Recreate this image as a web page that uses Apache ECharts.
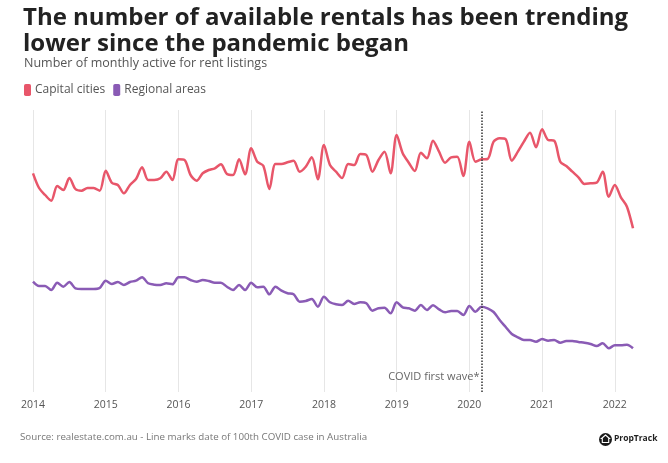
<!DOCTYPE html>
<html>
<head>
<meta charset="utf-8">
<script src="https://cdn.jsdelivr.net/npm/echarts@6/dist/echarts.min.js"></script>
<style>
html,body{margin:0;padding:0;background:#fff;}
#chart{width:668px;height:463px;}
</style>
</head>
<body>
<div id="chart"></div>
<script>
// Months Jan 2014 .. Apr 2022
var years = [2014, 2015, 2016, 2017, 2018, 2019, 2020, 2021, 2022];
var months = [];
years.forEach(function (y) {
  for (var m = 1; m <= 12; m++) {
    if (y === 2022 && m > 4) break;
    months.push(y + '-' + (m < 10 ? '0' + m : m));
  }
});

// Number of monthly active for-rent listings (relative index)
var capitalCities = [
  221.7,207,200,194.3,209,205,217,206,204.3,207,207,204.3,
  224.3,212.3,210,201.7,210,216,227.7,215,215,216.7,223.3,215,
  235.7,235,220,214.3,221.7,225,226.7,230.7,221,220,235.7,220.7,
  246.7,233.3,229.3,206,231,231,232.7,234.3,223.3,228.3,237.7,215.7,
  250,230,223.3,217,231,230,241,240,223.3,235,243.3,221.7,
  260,241.7,232.3,224,242.3,236.7,254.3,243.3,232.3,237.7,238.3,219,
  253.3,233.3,235.7,236,253.3,256.7,255.7,234.3,243.3,253.3,262.3,247.7,
  265.7,255,254.3,233.3,229,223.3,217.7,211,211.7,212.3,223.3,198.3,
  210,197.7,188.3,166.7
];
var regionalAreas = [
  113.3,109,109,105,112.3,108.3,113,106.7,106,106,106,107,
  114.3,111,113,110,113,114.3,117.7,111.7,110.3,110,111.7,110.7,
  117.7,117.7,115,113.3,115,114,112.3,112.3,108.3,105,110,105,
  112.3,107.7,108.3,100.7,108.3,104.3,101.7,100.7,93.3,94,96,88.3,
  98.3,92.7,90.7,90,94.3,91,92.7,91.7,84.3,86.7,87.3,81.7,
  92.7,87.7,86.7,84.3,90,85,89.7,85.7,82.7,84,84,80,
  89,83.3,88.3,86.7,83,75,68,61,57.7,55,55,53.3,
  56,54.3,55,52.3,54,54,53,52.3,51,49,51.7,46.7,
  49.7,49.7,50.3,46.7
];
var covidMonth = '2020-03';
var covidLabel = 'COVID first wave*';

var FONT = 'Open Sans';
var isJan = function (i, v) { return /-01$/.test(v); };

var chart = echarts.init(document.getElementById('chart'), null, {renderer: 'canvas'});
var option = {
  backgroundColor: '#fff',
  animation: false,
  textStyle: {fontFamily: FONT},
  title: [
    {
      text: 'The number of available rentals has been trending\nlower since the pandemic began',
      left: 18, top: 0,
      textStyle: {fontFamily: FONT, fontSize: 24, fontWeight: 'bold', color: '#222', lineHeight: 26}
    },
    {
      text: 'Number of monthly active for rent listings',
      left: 19, top: 52,
      textStyle: {fontFamily: FONT, fontSize: 12.5, fontWeight: 'normal', color: '#555'}
    }
  ],
  legend: {
    left: 19, top: 79,
    icon: 'roundRect',
    itemWidth: 7, itemHeight: 12, itemGap: 8,
    textStyle: {fontFamily: FONT, fontSize: 12, color: '#555', padding: [0, 0, 0, -1]},
    data: ['Capital cities', 'Regional areas']
  },
  grid: {left: 33, right: 35, top: 110, bottom: 71, containLabel: false},
  xAxis: {
    type: 'category',
    data: months,
    boundaryGap: false,
    axisLine: {show: false},
    axisTick: {show: false},
    axisLabel: {
      interval: isJan,
      formatter: function (v) { return v.slice(0, 4); },
      fontFamily: FONT, fontSize: 10.5, color: '#555', margin: 8
    },
    splitLine: {show: true, interval: isJan, lineStyle: {color: '#e6e6e6', width: 1}}
  },
  yAxis: {
    type: 'value', min: 3, max: 285, show: false,
    splitLine: {show: false}
  },
  series: [
    {
      name: 'Capital cities', type: 'line', data: capitalCities,
      showSymbol: false, smooth: 0.3,
      lineStyle: {color: '#e8566a', width: 2.5},
      itemStyle: {color: '#e8566a'},
      markLine: {
        silent: true, symbol: ['none', 'none'],
        lineStyle: {type: 'dotted', color: '#333', width: 1.5},
        label: {show: false},
        data: [{xAxis: covidMonth}]
      }
    },
    {
      name: 'Regional areas', type: 'line', data: regionalAreas,
      showSymbol: false, smooth: 0.3,
      lineStyle: {color: '#8a5bb5', width: 2.5},
      itemStyle: {color: '#8a5bb5'}
    }
  ]
};
chart.setOption(option);

var cx = chart.convertToPixel({xAxisIndex: 0}, covidMonth);
chart.setOption({
  graphic: [
    {
      type: 'text', right: 668 - cx + 2, top: 371,
      style: {text: covidLabel, fontFamily: FONT, fontSize: 11, fill: '#666'}
    },
    {
      type: 'text', left: 20, top: 432,
      style: {text: 'Source: realestate.com.au - Line marks date of 100th COVID case in Australia', fontFamily: FONT, fontSize: 9.75, fill: '#777'}
    },
    {
      type: 'circle', shape: {cx: 605.5, cy: 439.5, r: 6.5}, style: {fill: '#1a1a1a'}
    },
    {
      type: 'polygon', shape: {points: [[605.5, 435], [609.5, 438.5], [608.7, 438.5], [608.7, 442.5], [602.3, 442.5], [602.3, 438.5], [601.5, 438.5]]},
      style: {fill: 'none', stroke: '#fff', lineWidth: 1.1}
    },
    {
      type: 'text', left: 614, top: 434,
      style: {text: 'PropTrack', fontFamily: FONT, fontSize: 8.5, fontWeight: 'bold', fill: '#222'}
    }
  ]
});
</script>
</body>
</html>
